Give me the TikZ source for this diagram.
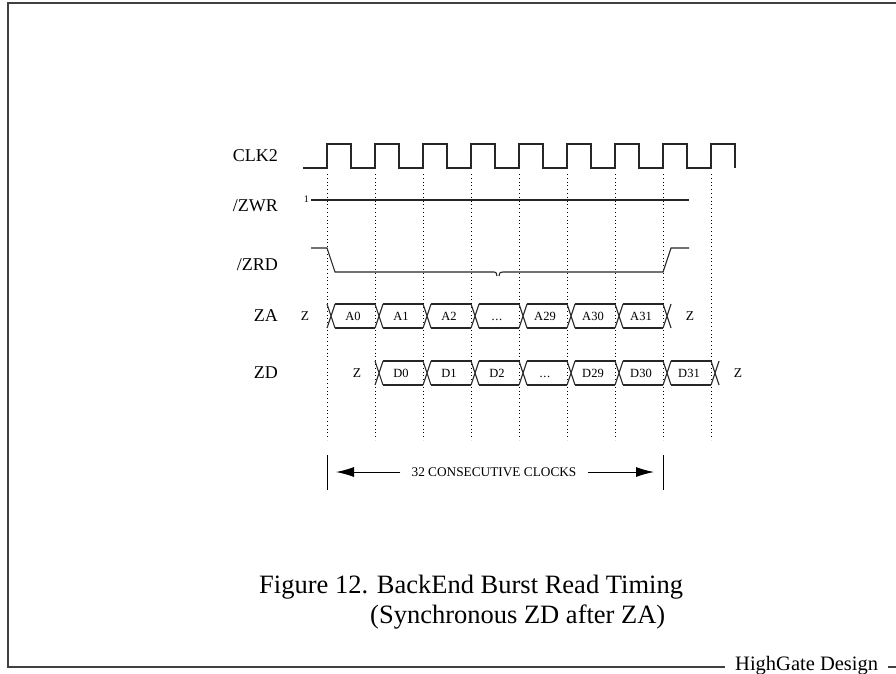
\documentclass[tikz,border=0pt]{standalone}
\usepackage{fontspec}
\setmainfont{Liberation Serif}
\usetikzlibrary{arrows.meta}
\newcommand{\busdots}{.\kern0.6pt.\kern0.6pt.}

\begin{document}
\begin{tikzpicture}[x=1pt,y=-1pt,
	wave/.style={line width=1.1pt,black!85},
	gridline/.style={line width=0.7pt,dash pattern=on 0.8pt off 3pt},
	siglabel/.style={anchor=east,inner sep=0pt,font=\fontsize{18}{20}\selectfont},
	busval/.style={inner sep=0pt,text height=8.5pt,text depth=0pt,font=\fontsize{12.5}{14}\selectfont},
	zval/.style={inner sep=0pt,font=\fontsize{13.5}{15}\selectfont},
	frameline/.style={line width=1.4pt,black!75},
	bigarrow/.style={line width=1pt,-{Latex[length=18pt,width=10pt]}}]
	\useasboundingbox (0,0) rectangle (896,673);

	% page frame
	\node [anchor=base west,inner xsep=10pt,inner ysep=0pt,font=\fontsize{20.5}{22}\selectfont] (hgd) at (725,670) {HighGate Design};
	\draw [frameline] (896,3) -- (8,3) -- (8,667) -- (hgd.west |- 0,667);
	\draw [frameline] (hgd.east |- 0,667) -- (896,667);

	% signal names
	\node [siglabel] (clk) at (278,156) {CLK2};
	\node [siglabel] (zwr) at (278,206) {/ZWR};
	\node [siglabel] (zrd) at (278,265) {/ZRD};
	\node [siglabel] (za) at (278,316) {ZA};
	\node [siglabel] (zd) at (278,373) {ZD};

	% clock grid
	\foreach \k in {0,...,8}
		\draw [gridline] ({327+48*\k},174) -- ({327+48*\k},440);

	% CLK2
	\draw [wave] (303,168) \foreach \k in {0,...,8} {
		-- ({327+48*\k},168) -- ({327+48*\k},144) -- ({351+48*\k},144) -- ({351+48*\k},168)};

	% /ZWR
	\node [inner sep=0pt,anchor=east,font=\fontsize{10}{11}\selectfont] (one) at (309,199) {1};
	\draw [wave] (311,200) -- (689,200);

	% /ZRD
	\draw [wave] (311,248) -- (327,248) -- (335,272) -- (494,272) .. controls (496,272) .. (497,276);
	\draw [wave] (499,276) .. controls (500,272) .. (503,272) -- (663,272) -- (671,248) -- (689,248);

	% ZA bus
	\foreach \k in {0,...,7}
		\draw [wave] ({327+48*\k},304) -- ({335+48*\k},328) ({327+48*\k},328) -- ({335+48*\k},304);
	\foreach \k/\v in {0/A0,1/A1,2/A2,3/\busdots,4/A29,5/A30,6/A31} {
		\draw [wave] ({335+48*\k},304) -- ({375+48*\k},304) ({335+48*\k},328) -- ({375+48*\k},328);
		\node [busval] (za\k) at ({353+48*\k},316) {\v};
	}
	\node [zval] (zaz1) at (305,316) {Z};
	\node [zval] (zaz2) at (690,316) {Z};

	% ZD bus
	\foreach \k in {0,...,7}
		\draw [wave] ({375+48*\k},361) -- ({383+48*\k},385) ({375+48*\k},385) -- ({383+48*\k},361);
	\foreach \k/\v in {0/D0,1/D1,2/D2,3/\busdots,4/D29,5/D30,6/D31} {
		\draw [wave] ({383+48*\k},361) -- ({423+48*\k},361) ({383+48*\k},385) -- ({423+48*\k},385);
		\node [busval] (zd\k) at ({401+48*\k},373) {\v};
	}
	\node [zval] (zdz1) at (357,373) {Z};
	\node [zval] (zdz2) at (738,373) {Z};

	% 32 clocks
	\draw [line width=1pt] (327,455) -- (327,490);
	\draw [line width=1pt] (663,455) -- (663,490);
	\node [inner xsep=11pt,inner ysep=0pt,font=\fontsize{13.3}{15}\selectfont] (cc) at (494,472) {32 CONSECUTIVE CLOCKS};
	\coordinate (ltip) at (336,472);
	\coordinate (rtip) at (654,472);
	\draw [bigarrow] (cc.west) -- (ltip);
	\draw [bigarrow] (cc.east) -- (rtip);

	% caption
	\node [anchor=base west,inner sep=0pt,font=\fontsize{26.5}{30}\selectfont] (cap1) at (259,593) {Figure 12. BackEnd Burst Read Timing};
	\node [anchor=base west,inner sep=0pt,font=\fontsize{26.5}{30}\selectfont] (cap2) at (370,623) {(Synchronous ZD after ZA)};
\end{tikzpicture}
\end{document}
